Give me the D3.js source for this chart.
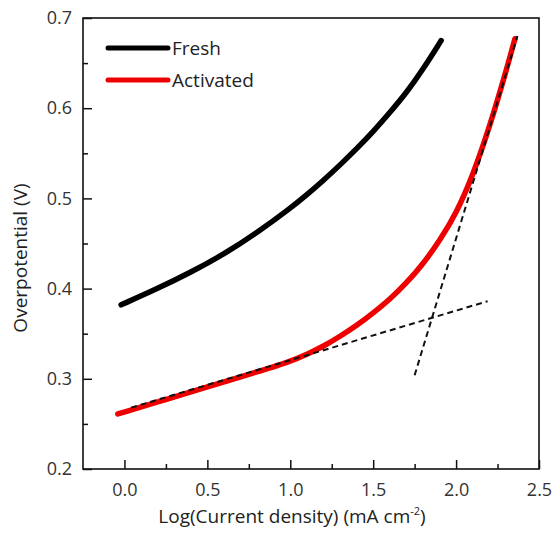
<!DOCTYPE html>
<html>
<head>
<meta charset="utf-8">
<script src="https://cdn.jsdelivr.net/npm/d3@7/dist/d3.min.js"></script>
<style>
  body { margin: 0; background: #fff; }
  text { font-family: "Open Sans", sans-serif; fill: #222; }
</style>
</head>
<body>
<div class="chart"></div>
<script>
// values
var freshX = [-0.02, 0.2, 0.4, 0.6, 0.8, 1.0, 1.1, 1.2, 1.3, 1.4, 1.5, 1.6, 1.7, 1.8, 1.91]
var freshY = [0.382, 0.400, 0.418, 0.438, 0.462, 0.489, 0.504, 0.520, 0.537, 0.555, 0.574, 0.595, 0.617, 0.643, 0.675]

var activatedX = [-0.04, 0.25, 0.5, 0.75, 1.0, 1.1, 1.2, 1.3, 1.4, 1.5, 1.6, 1.7, 1.8, 1.9, 2.0, 2.1, 2.2, 2.3, 2.355]
var activatedY = [0.261, 0.277, 0.291, 0.305, 0.319, 0.327, 0.336, 0.347, 0.359, 0.373, 0.388, 0.406, 0.427, 0.453, 0.483, 0.525, 0.578, 0.640, 0.677]

// tafel fit lines (dashed)
var tafelLowX = [0.04, 2.19]
var tafelLowY = [0.268, 0.386]
var tafelHighX = [1.75, 2.37]
var tafelHighY = [0.304, 0.680]

var xTicks = [0.0, 0.5, 1.0, 1.5, 2.0, 2.5]
var xMinor = [0.25, 0.75, 1.25, 1.75, 2.25]
var yTicks = [0.2, 0.3, 0.4, 0.5, 0.6, 0.7]
var yMinor = [0.25, 0.35, 0.45, 0.55, 0.65]

var seriesNames = ["Fresh", "Activated"]
var seriesColors = ["#000000", "#ee0000"]

var margin = {left: 83, top: 18}
var w = 456, h = 451

var svg = d3.select(".chart")
    .append("svg")
    .attr("width", 555)
    .attr("height", 540)

var g = svg.append("g")
    .attr("transform", "translate(" + margin.left + "," + margin.top + ")")

var x = d3.scaleLinear().domain([-0.25, 2.5]).range([0, w])
var y = d3.scaleLinear().domain([0.2, 0.7]).range([h, 0])

// x axis, ticks pointing in
g.append("g")
    .attr("transform", "translate(0," + h + ")")
    .call(d3.axisBottom(x).tickValues(xTicks).tickSize(-9).tickPadding(14)
        .tickFormat(d3.format(".1f")))
g.append("g")
    .attr("transform", "translate(0," + h + ")")
    .call(d3.axisBottom(x).tickValues(xMinor).tickSize(-5).tickFormat(""))

g.append("g")
    .call(d3.axisLeft(y).tickValues(yTicks).tickSize(-9).tickPadding(11)
        .tickFormat(d3.format(".1f")))
g.append("g")
    .call(d3.axisLeft(y).tickValues(yMinor).tickSize(-5).tickFormat(""))

g.selectAll(".domain").remove()
g.selectAll(".tick line").style("stroke", "#111").style("stroke-width", 1.5)
g.selectAll(".tick text").style("font-size", "18px").style("fill", "#333")

// frame
g.append("rect")
    .attr("width", w)
    .attr("height", h)
    .style("fill", "none")
    .style("stroke", "#111")
    .style("stroke-width", 1.6)

var line = d3.line()
    .x(d => x(d[0]))
    .y(d => y(d[1]))
    .curve(d3.curveBasis)

var fresh = freshX.map((d, i) => [d, freshY[i]])
var activated = activatedX.map((d, i) => [d, activatedY[i]])

g.append("path")
    .datum(fresh)
    .attr("d", line)
    .style("fill", "none")
    .style("stroke", seriesColors[0])
    .style("stroke-width", 5.5)
    .style("stroke-linecap", "round")

g.append("path")
    .datum(activated)
    .attr("d", line)
    .style("fill", "none")
    .style("stroke", seriesColors[1])
    .style("stroke-width", 5.5)
    .style("stroke-linecap", "round")

// dashed fit lines
var straight = d3.line().x(d => x(d[0])).y(d => y(d[1]))
;[[tafelLowX, tafelLowY], [tafelHighX, tafelHighY]].forEach(t => {
    g.append("path")
        .datum(t[0].map((d, i) => [d, t[1][i]]))
        .attr("d", straight)
        .style("fill", "none")
        .style("stroke", "#111")
        .style("stroke-width", 2)
        .style("stroke-dasharray", "6,4")
})

// legend
seriesNames.forEach((name, i) => {
    svg.append("line")
        .attr("x1", 108)
        .attr("x2", 168)
        .attr("y1", 48 + i * 32)
        .attr("y2", 48 + i * 32)
        .style("stroke", seriesColors[i])
        .style("stroke-width", 5)
        .style("stroke-linecap", "round")
    svg.append("text")
        .attr("x", 172)
        .attr("y", 48 + i * 32 + 7)
        .text(name)
        .style("font-size", "19px")
})

// axis titles
var xt = svg.append("text")
    .attr("x", 292)
    .attr("y", 523)
    .attr("text-anchor", "middle")
    .style("font-size", "19px")
xt.append("tspan").text("Log(Current density) (mA cm")
xt.append("tspan").text("-2").attr("dy", -8).style("font-size", "11px")
xt.append("tspan").text(")").attr("dy", 8)

svg.append("text")
    .attr("transform", "translate(27,258) rotate(-90)")
    .attr("text-anchor", "middle")
    .text("Overpotential (V)")
    .style("font-size", "19px")
</script>
</body>
</html>
